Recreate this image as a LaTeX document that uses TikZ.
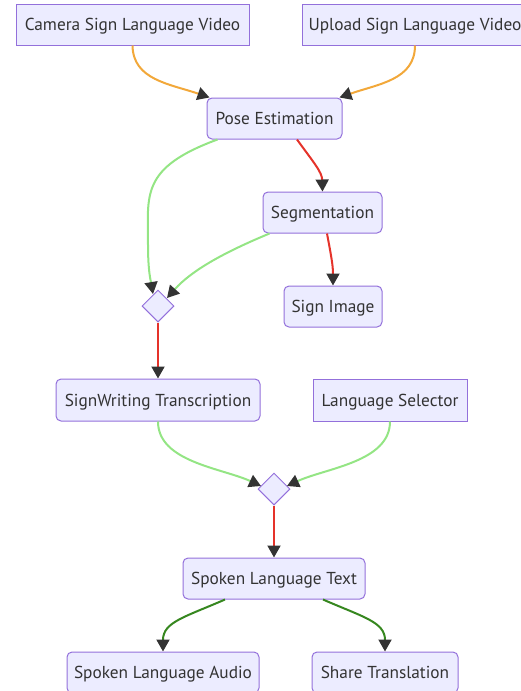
\documentclass[tikz,border=0pt]{standalone}
\usepackage{fontspec}
\setmainfont{PT Sans}
\usetikzlibrary{shapes.geometric,arrows.meta,calc}
\definecolor{nodefill}{HTML}{ECECFF}
\definecolor{nodeborder}{HTML}{9370DB}
\definecolor{txt}{HTML}{333333}
\definecolor{eorange}{HTML}{F2A83A}
\definecolor{elgreen}{HTML}{94E584}
\definecolor{ered}{HTML}{E5332A}
\definecolor{edgreen}{HTML}{36871F}
\tikzset{
  box/.style={draw=nodeborder, fill=nodefill, line width=1pt, text=txt,
    minimum height=41, inner sep=0pt, text height=12.5pt, text depth=0.5pt,
    font=\fontsize{17.3}{20}\selectfont},
  rbox/.style={box, rounded corners=5pt},
  dia/.style={diamond, draw=nodeborder, fill=nodefill, line width=1pt,
    minimum width=32, minimum height=32, inner sep=0pt},
  edge/.style={line width=2pt, -{Triangle[length=12pt,width=13pt,fill=txt,color=txt]}},
  eo/.style={edge, draw=eorange},
  elg/.style={edge, draw=elgreen},
  ered/.style={edge, draw=ered},
  edg/.style={edge, draw=edgreen},
}
\begin{document}
\begin{tikzpicture}[x=1pt,y=-1pt]
\useasboundingbox (0,0) rectangle (520,691);
\node[box, minimum width=233] (cam) at (132.5,24.5) {Camera Sign Language Video};
\node[box, minimum width=226] (up) at (415,24.5) {Upload Sign Language Video};
\node[rbox, minimum width=135] (pose) at (274.5,118.5) {Pose Estimation};
\node[rbox, minimum width=119] (seg) at (322.5,212.5) {Segmentation};
\node[rbox, minimum width=98] (sign) at (333,306.5) {Sign Image};
\node[dia] (d1) at (158,306) {};
\node[rbox, minimum width=204, minimum height=42] (sw) at (158,400) {SignWriting Transcription};
\node[box, minimum width=154, minimum height=42] (lang) at (390,400) {Language Selector};
\node[dia] (d2) at (274,489) {};
\node[rbox, minimum width=182] (slt) at (274,578.5) {Spoken Language Text};
\node[rbox, minimum width=192] (audio) at (163,672.5) {Spoken Language Audio};
\node[rbox, minimum width=146] (share) at (385,672.5) {Share Translation};

\draw[eo] (cam.south) .. controls (133,80) and (170,84) .. ($(pose.north west)+(3,0)$);
\draw[eo] (up.south) .. controls (415,80) and (378,84) .. ($(pose.north east)+(-3,0)$);

\draw[elg] ($(pose.south west)+(11,0)$) .. controls (140,168) and (148,195) .. (148,245)
  .. controls (148,272) and (151,282) .. ($(d1.center)+(-5,-12)$);
\draw[ered] ($(pose.south)+(22.5,0)$) .. controls (314,163) and (322,172) .. (seg.north);

\draw[elg] ($(seg.south west)+(7,0)$) .. controls (225,252) and (192,270) .. ($(d1.center)+(9,-8)$);
\draw[ered] ($(seg.south)+(4.5,0)$) .. controls (331,255) and (333,265) .. (sign.north);

\draw[ered] (d1.south) -- (sw.north);
\draw[elg] (sw.south) .. controls (158,462) and (222,468) .. ($(d2.center)+(-13,-3)$);
\draw[elg] (lang.south) .. controls (390,462) and (326,468) .. ($(d2.center)+(13,-3)$);
\draw[ered] (d2.south) -- (slt.north);

\draw[edg] ($(slt.south)+(-49,0)$) .. controls (185,617) and (163,622) .. (audio.north);
\draw[edg] ($(slt.south)+(49,0)$) .. controls (363,617) and (385,622) .. (share.north);
\end{tikzpicture}
\end{document}
